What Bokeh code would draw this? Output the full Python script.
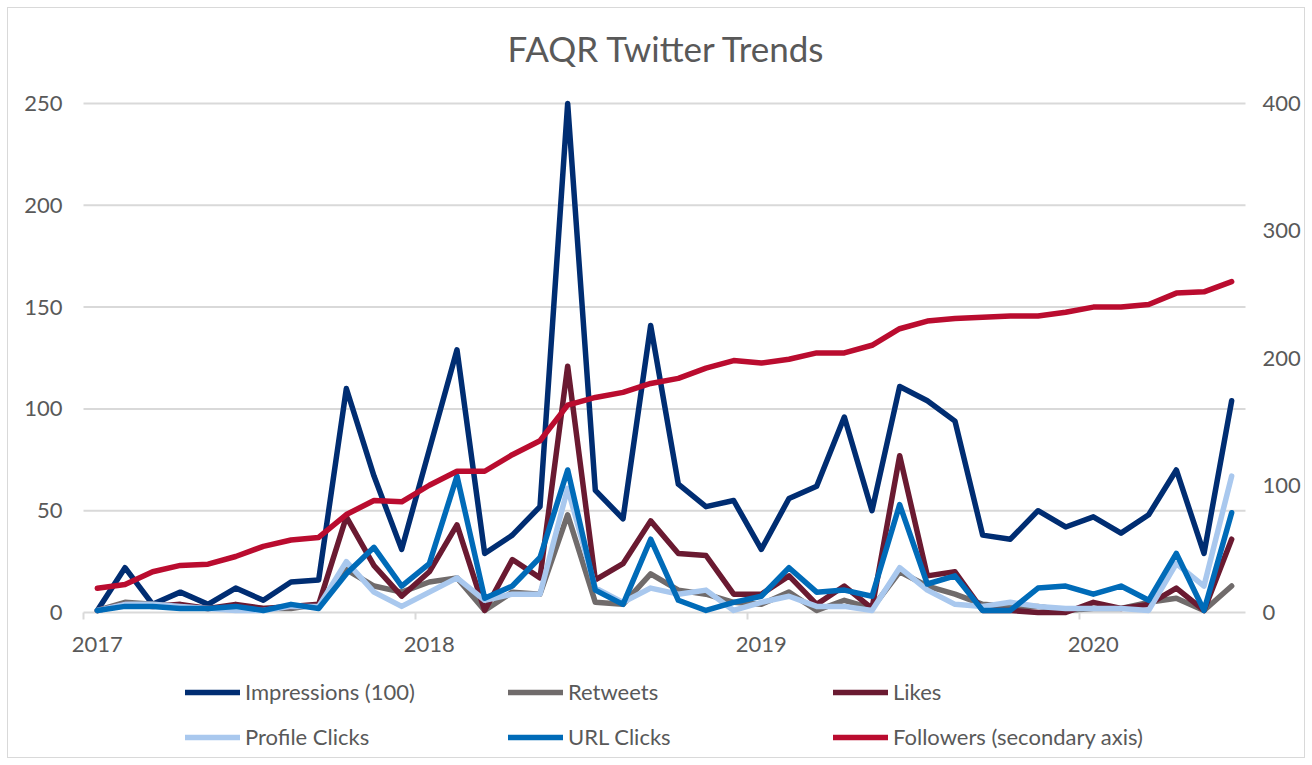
from bokeh.plotting import figure
from bokeh.models import Range1d, LinearAxis, FixedTicker, Legend, LegendItem
from bokeh.embed import file_html
from bokeh.resources import INLINE

# ---------------- data (monthly, Jan 2017 - Jun 2020) ----------------
month_index = list(range(42))
year_label_positions = [0, 12, 24, 36]
year_labels = ["2017", "2018", "2019", "2020"]
year_boundaries = [-0.5, 11.5, 23.5, 35.5]
left_ticks = [0, 50, 100, 150, 200, 250]
right_ticks = [0, 100, 200, 300, 400]

impressions = [1, 22, 4, 10, 4, 12, 6, 15, 16, 110, 67, 31,
               80, 129, 29, 38, 52, 250, 60, 46, 141, 63, 52, 55,
               31, 56, 62, 96, 50, 111, 104, 94, 38, 36, 50, 42,
               47, 39, 48, 70, 29, 104]
retweets = [1, 5, 4, 3, 2, 3, 2, 2, 4, 21, 13, 10,
            15, 17, 1, 10, 9, 48, 5, 4, 19, 11, 9, 5,
            4, 10, 1, 6, 2, 20, 13, 9, 4, 3, 3, 1,
            2, 2, 5, 7, 1, 13]
likes = [1, 4, 3, 4, 2, 4, 2, 3, 4, 47, 23, 8,
         20, 43, 1, 26, 17, 121, 16, 24, 45, 29, 28, 9,
         9, 18, 4, 13, 2, 77, 18, 20, 1, 1, 0, 0,
         5, 2, 4, 12, 1, 36]
profile_clicks = [1, 4, 4, 3, 2, 1, 1, 3, 3, 25, 10, 3,
                  10, 17, 6, 9, 9, 61, 12, 5, 12, 9, 11, 1,
                  5, 8, 3, 3, 1, 22, 11, 4, 3, 5, 3, 2,
                  2, 2, 1, 24, 13, 67]
url_clicks = [1, 3, 3, 2, 2, 3, 1, 4, 2, 19, 32, 13,
              24, 67, 7, 13, 27, 70, 11, 4, 36, 6, 1, 5,
              8, 22, 10, 11, 8, 53, 14, 18, 1, 1, 12, 13,
              9, 13, 6, 29, 1, 49]
followers = [19, 22, 32, 37, 38, 44, 52, 57, 59, 77, 88, 87,
             100, 111, 111, 124, 135, 163, 169, 173, 180, 184, 192, 198,
             196, 199, 204, 204, 210, 223, 229, 231, 232, 233, 233, 236,
             240, 240, 242, 251, 252, 260]

series_names = ["Impressions (100)", "Retweets", "Likes",
                "Profile Clicks", "URL Clicks", "Followers (secondary axis)"]
series_colors = ["#002D72", "#706B6B", "#6A1A31", "#A9C8EE", "#006BB8", "#BA0C2F"]

FONT = "Lato"
TXT = "#595959"
GRID = "#D9D9D9"

# ---------------- layout geometry (pixels) ----------------
W, H = 1296, 749
PLOT_L, PLOT_R = 75, 1237        # data area inside the figure
PLOT_T, PLOT_B = 95, 604
FRAME_T, FRAME_B = 72, 742       # frame (incl. room for pinned axes + legend)
X0, X1 = -0.5, 41.5
Y_MAX_L, Y_MAX_R = 250, 400

px_per_x = (PLOT_R - PLOT_L) / (X1 - X0)
px_per_y = (PLOT_B - PLOT_T) / Y_MAX_L
x_lo = X0 - PLOT_L / px_per_x
x_hi = X1 + (W - PLOT_R) / px_per_x
y_hi = Y_MAX_L + (PLOT_T - FRAME_T) / px_per_y
y_lo = -(FRAME_B - PLOT_B) / px_per_y
ratio = Y_MAX_R / Y_MAX_L

p = figure(width=W, height=H, output_backend="svg", toolbar_location=None,
           x_range=Range1d(x_lo, x_hi), y_range=Range1d(y_lo, y_hi),
           min_border_left=0, min_border_right=0,
           min_border_top=FRAME_T, min_border_bottom=H - FRAME_B)
p.styles = {"margin": "8px", "outline": "1px solid #D9D9D9"}
p.outline_line_color = None
p.background_fill_color = "white"
p.border_fill_color = "white"
p.grid.visible = False

p.title.text = "FAQR Twitter Trends"
p.title.align = "left"
p.title.offset = 499
p.title.text_font = FONT
p.title.text_font_size = "35px"
p.title.text_font_style = "normal"
p.title.text_color = TXT
p.title.standoff = 24

p.extra_y_ranges = {"followers": Range1d(y_lo * ratio, y_hi * ratio)}

# horizontal gridlines (incl. the zero baseline), spanning only the data area
p.segment(x0=[X0] * len(left_ticks), x1=[X1] * len(left_ticks),
          y0=left_ticks, y1=left_ticks, line_color=GRID, line_width=2)

# x axis pinned at zero
xa = p.xaxis[0]
xa.fixed_location = 0
xa.ticker = FixedTicker(ticks=year_label_positions, minor_ticks=year_boundaries)
xa.major_label_overrides = {pos: lab for pos, lab in zip(year_label_positions, year_labels)}
xa.axis_line_color = None
xa.major_tick_line_color = None
xa.major_tick_out = 0
xa.major_tick_in = 0
xa.minor_tick_line_color = GRID
xa.minor_tick_line_width = 2
xa.minor_tick_out = 7
xa.minor_tick_in = 0
xa.major_label_standoff = 17
xa.major_label_text_font = FONT
xa.major_label_text_font_size = "22px"
xa.major_label_text_color = TXT

# left y axis pinned at the data area's left edge
ya = p.yaxis[0]
ya.fixed_location = X0
ya.ticker = FixedTicker(ticks=left_ticks)
ya.axis_line_color = None
ya.major_tick_line_color = None
ya.minor_tick_line_color = None
ya.major_tick_out = 0
ya.major_tick_in = 0
ya.major_label_standoff = 21
ya.major_label_text_font = FONT
ya.major_label_text_font_size = "22px"
ya.major_label_text_color = TXT

# right y axis pinned at the data area's right edge
ra = LinearAxis(y_range_name="followers", ticker=FixedTicker(ticks=right_ticks))
ra.fixed_location = X1
ra.axis_line_color = None
ra.major_tick_line_color = None
ra.minor_tick_line_color = None
ra.major_tick_out = 0
ra.major_tick_in = 0
ra.major_label_standoff = 17
ra.major_label_text_font = FONT
ra.major_label_text_font_size = "22px"
ra.major_label_text_color = TXT
p.add_layout(ra, "right")

series_values = [impressions, retweets, likes, profile_clicks, url_clicks, followers]
renderers = []
for name, vals, col in zip(series_names, series_values, series_colors):
    kw = {}
    if name.startswith("Followers"):
        kw["y_range_name"] = "followers"
    r = p.line(month_index, vals, line_color=col, line_width=5.5,
               line_join="round", line_cap="round", **kw)
    renderers.append(r)

# legend: three columns of two items each, inside the frame below the axis
columns = [(0, 3, 177), (1, 4, 500), (2, 5, 825)]
for a, b, xoff in columns:
    leg = Legend(items=[LegendItem(label=series_names[a], renderers=[renderers[a]]),
                        LegendItem(label=series_names[b], renderers=[renderers[b]])],
                 location=(xoff, 0), orientation="vertical")
    leg.padding = 0
    leg.margin = 0
    leg.spacing = 18
    leg.glyph_width = 55
    leg.glyph_height = 26
    leg.label_height = 26
    leg.label_standoff = 5
    leg.label_text_font = FONT
    leg.label_text_font_size = "22px"
    leg.label_text_color = TXT
    leg.border_line_color = None
    leg.background_fill_alpha = 0
    p.add_layout(leg, "center")

open("out.html", "w").write(file_html(p, INLINE))
